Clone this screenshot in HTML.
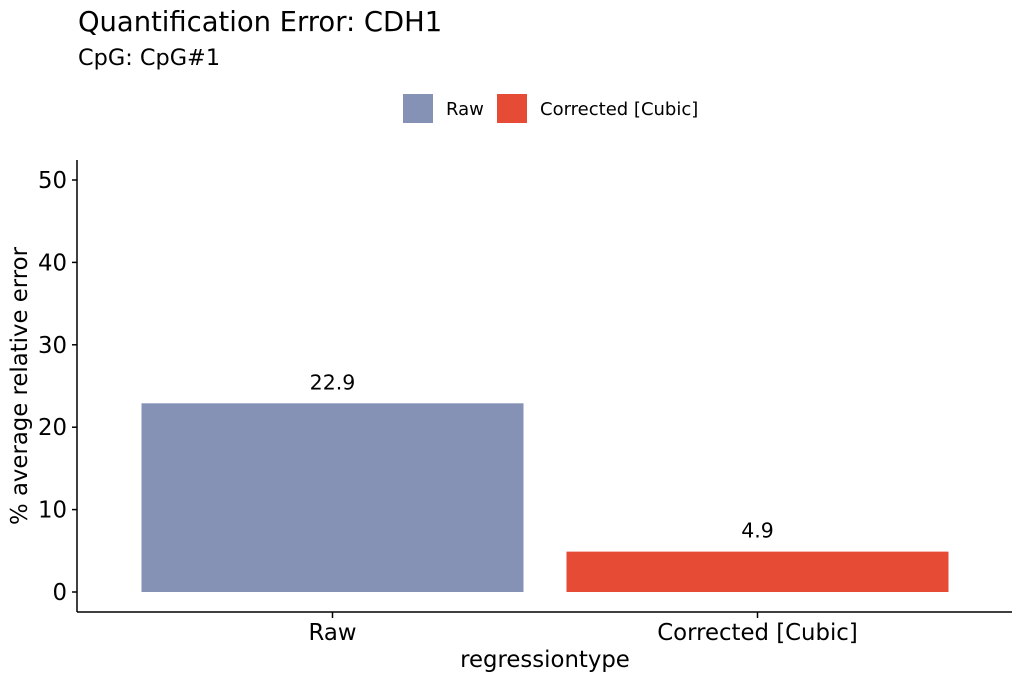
<!DOCTYPE html>
<html><head><meta charset="utf-8"><style>
body{margin:0;background:#fff;}
svg{display:block;font-family:"DejaVu Sans","Liberation Sans",sans-serif;}
</style></head><body>
<svg id="chart" width="1024" height="683" viewBox="0 0 1024 683" xmlns="http://www.w3.org/2000/svg">
<rect width="1024" height="683" fill="#fff"/>
<text x="78" y="31" font-size="27.4" fill="#000">Quantification Error: CDH1</text>
<text x="78" y="65" font-size="22.4" fill="#000">CpG: CpG#1</text>
<g>
<g><rect x="403" y="94" width="30" height="29" fill="#8692b5"/><text x="446" y="115" font-size="18">Raw</text></g>
<g><rect x="497" y="94" width="30" height="29" fill="#e64c35"/><text x="540" y="115" font-size="18">Corrected [Cubic]</text></g>
</g>
<g id="plot"></g>
<line x1="77" y1="160" x2="77" y2="612" stroke="#000" stroke-width="1.5"/>
<line x1="77" y1="612" x2="1012" y2="612" stroke="#000" stroke-width="1.5"/>
<text x="545" y="667" font-size="22.8" text-anchor="middle">regressiontype</text>
<text transform="translate(27,386) rotate(-90)" font-size="22.8" text-anchor="middle">% average relative error</text>
</svg>
<script>
const categories=["Raw","Corrected [Cubic]"];
const values=[22.9,4.9];
const labels=["22.9","4.9"];
const yTicks=[0,10,20,30,40,50];
const colors=["#8692b5","#e64c35"];
const NS="http://www.w3.org/2000/svg";
const g=document.getElementById('plot');
const y=v=>592-v*8.24;
const bandStart=99, bandStep=425, barW=382;
const xc=i=>bandStart+bandStep*i+bandStep/2+21;
function mk(t,a){const e=document.createElementNS(NS,t);for(const k in a)e.setAttribute(k,a[k]);g.appendChild(e);return e;}
yTicks.forEach(t=>{
 const l=mk('line',{x1:72,x2:77,y1:y(t),y2:y(t),stroke:'#000','stroke-width':1.5});
 
 
 const tx=mk('text',{x:67,y:y(t)+8,'font-size':22.8,'text-anchor':'end'});
 tx.textContent=t;
 
 
});
categories.forEach((c,i)=>{
 const cx=xc(i);
 const r=mk('rect',{x:cx-barW/2,y:y(values[i]),width:barW,height:y(0)-y(values[i]),fill:colors[i]});
 
 
 const v=mk('text',{x:cx,y:y(values[i])-14,'font-size':20.5,'text-anchor':'middle'});
 v.textContent=labels[i];
 
 
 const tk=mk('line',{x1:cx,x2:cx,y1:612,y2:618,stroke:'#000','stroke-width':1.5});
 
 
 const tl=mk('text',{x:cx,y:640,'font-size':22.8,'text-anchor':'middle'});
 tl.textContent=c;
 
 
});
</script>
</body></html>
